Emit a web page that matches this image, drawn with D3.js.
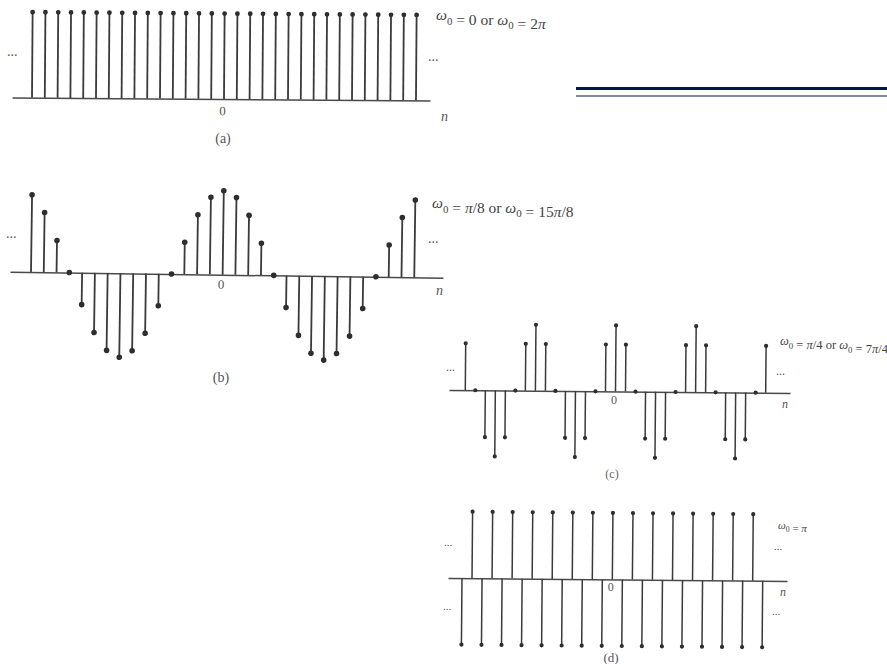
<!DOCTYPE html>
<html>
<head>
<meta charset="utf-8">
<script src="https://cdn.jsdelivr.net/npm/d3@7"></script>
<style>
  html, body { margin: 0; padding: 0; background: #fff; }
  svg { display: block; }
  svg text { font-family: "Liberation Serif", "Times New Roman", "DejaVu Serif", serif; }
</style>
</head>
<body>
<script>
// Sample index n for every sequence
const nIndex = [-15, -14, -13, -12, -11, -10, -9, -8, -7, -6, -5, -4, -3, -2, -1, 0,
                1, 2, 3, 4, 5, 6, 7, 8, 9, 10, 11, 12, 13, 14, 15];

// (a) w0 = 0 : constant sequence
const seqA = [1, 1, 1, 1, 1, 1, 1, 1, 1, 1, 1, 1, 1, 1, 1, 1,
              1, 1, 1, 1, 1, 1, 1, 1, 1, 1, 1, 1, 1, 1, 1];

// (b) w0 = pi/8 : period 16
const seqB = [0.92, 0.71, 0.38, 0, -0.38, -0.71, -0.92, -1, -0.92, -0.71, -0.38, 0, 0.38, 0.71, 0.92, 1,
              0.92, 0.71, 0.38, 0, -0.38, -0.71, -0.92, -1, -0.92, -0.71, -0.38, 0, 0.38, 0.71, 0.92];

// (c) w0 = pi/4 : period 8
const seqC = [0.71, 0, -0.71, -1, -0.71, 0, 0.71, 1, 0.71, 0, -0.71, -1, -0.71, 0, 0.71, 1,
              0.71, 0, -0.71, -1, -0.71, 0, 0.71, 1, 0.71, 0, -0.71, -1, -0.71, 0, 0.71];

// (d) w0 = pi : alternating sign
const seqD = [-1, 1, -1, 1, -1, 1, -1, 1, -1, 1, -1, 1, -1, 1, -1, 1,
              -1, 1, -1, 1, -1, 1, -1, 1, -1, 1, -1, 1, -1, 1, -1];

// Frequency annotations ("_0" marks a subscript zero) and panel captions
const freqLabels = ["ω_0 = 0 or ω_0 = 2π", "ω_0 = π/8 or ω_0 = 15π/8", "ω_0 = π/4 or ω_0 = 7π/4", "ω_0 = π"];
const captions = ["(a)", "(b)", "(c)", "(d)"];
const tickLabels = ["0"];

const W = 887, H = 664;
const svg = d3.select("body").append("svg").attr("width", W).attr("height", H);

const ink = "#3a3a3a";

// Layout of each stem plot: stem span, baseline, amplitude and a slight tilt
const panels = [
  { data: seqA, x0: 32,    x1: 416,   left: 12,  right: 430, base: 97.5,  amp: 85.5, angle: 0.42, r: 2.4, sw: 1.8, pad: 7,  fs: 13 },
  { data: seqB, x0: 31,    x1: 414.3, left: 10,  right: 443, base: 271.7, amp: 84,   angle: 0.8,  r: 2.8, sw: 1.8, pad: 5,  fs: 13 },
  { data: seqC, x0: 465.3, x1: 765.7, left: 449, right: 790, base: 390,   amp: 66,   angle: 0.5,  r: 2.1, sw: 1.5, pad: 4,  fs: 12 },
  { data: seqD, x0: 462,   x1: 762.7, left: 448, right: 787, base: 578,   amp: 66.5, angle: 0.5,  r: 2.1, sw: 1.5, pad: 3,  fs: 12 }
];

panels.forEach(p => {
  const x = d3.scaleLinear().domain([nIndex[0], nIndex[nIndex.length - 1]]).range([p.x0, p.x1]);
  const y = d3.scaleLinear().domain([-1, 1]).range([p.base + p.amp, p.base - p.amp]);

  const g = svg.append("g").attr("transform", `rotate(${p.angle},${p.left},${p.base})`);

  // baseline (axis domain) with the single "0" tick label
  const lo = x.invert(p.left), hi = x.invert(p.right);
  const axisScale = x.copy().domain([lo, hi]).range([p.left, p.right]);
  const axis = d3.axisBottom(axisScale)
    .tickValues([0]).tickSize(0).tickSizeOuter(0).tickPadding(p.pad)
    .tickFormat((d, i) => tickLabels[i]);
  const ax = g.append("g").attr("transform", `translate(0,${y(0)})`).call(axis)
    .attr("font-family", null);
  ax.select(".domain").attr("stroke", "#4a4a4a").attr("stroke-width", 1.5);
  ax.selectAll("text").attr("font-size", p.fs).attr("fill", "#555").attr("dx", -2);

  const pts = nIndex.map((n, i) => ({ n, v: p.data[i] }));

  g.append("g").selectAll("line").data(pts).join("line")
    .attr("x1", d => x(d.n)).attr("x2", d => x(d.n))
    .attr("y1", y(0)).attr("y2", d => y(d.v))
    .attr("stroke", ink).attr("stroke-width", p.sw);

  g.append("g").selectAll("circle").data(pts).join("circle")
    .attr("cx", d => x(d.n)).attr("cy", d => y(d.v)).attr("r", p.r)
    .attr("fill", "#2e2e2e");
});

// Annotation text: ω and π in italic, subscript zeros lowered
function freqText(str, xPos, yPos, size) {
  const t = svg.append("text").attr("x", xPos).attr("y", yPos)
    .attr("font-size", size).attr("fill", "#444");
  const parts = str.split("_0");
  parts.forEach((s, i) => {
    s.split(/(ω|π)/).filter(c => c.length).forEach(chunk => {
      t.append("tspan")
        .attr("font-style", (chunk === "ω" || chunk === "π") ? "italic" : "normal")
        .text(chunk);
    });
    if (i < parts.length - 1) {
      t.append("tspan").attr("font-size", size * 0.7).attr("dy", size * 0.3).text("0");
      t.append("tspan").attr("dy", -size * 0.3).text("");
    }
  });
}
function plain(str, xPos, yPos, size, opts = {}) {
  svg.append("text").attr("x", xPos).attr("y", yPos)
    .attr("font-size", size)
    .attr("fill", opts.fill || "#555")
    .attr("font-style", opts.italic ? "italic" : "normal")
    .attr("text-anchor", opts.anchor || "start")
    .text(str);
}

freqText(freqLabels[0], 436, 20, 15.5);
freqText(freqLabels[1], 432, 208, 15.5);
freqText(freqLabels[2], 780, 345, 12.5);
freqText(freqLabels[3], 778, 529, 11);

// continuation dots
[[7, 56, 14], [428, 61, 14], [6, 238, 14], [428, 243, 14],
 [446, 371, 12], [776, 375, 12],
 [444, 546, 11], [443, 610, 11], [774, 550, 11], [772, 615, 11]]
  .forEach(([a, b, s]) => plain("...", a, b, s, { fill: "#555" }));

// axis variable n
plain("n", 441, 121, 14, { italic: true });
plain("n", 436, 295, 14, { italic: true });
plain("n", 782, 408, 12, { italic: true });
plain("n", 780, 596, 12, { italic: true });

// captions
plain(captions[0], 223, 143, 14, { anchor: "middle", fill: "#555" });
plain(captions[1], 221, 382, 14, { anchor: "middle", fill: "#555" });
plain(captions[2], 612, 478, 12, { anchor: "middle", fill: "#666" });
plain(captions[3], 611, 662, 13, { anchor: "middle", fill: "#555" });

// navy double rule at the upper right
svg.append("rect").attr("x", 576).attr("y", 87).attr("width", W - 576).attr("height", 3).attr("fill", "#001848");
svg.append("rect").attr("x", 576).attr("y", 95.5).attr("width", W - 576).attr("height", 1).attr("fill", "#001848");
</script>
</body>
</html>
